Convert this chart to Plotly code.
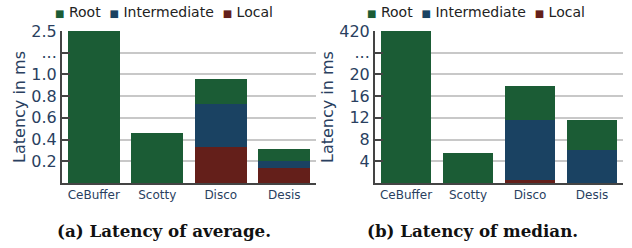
import plotly.graph_objects as go

categories = ["CeBuffer", "Scotty", "Disco", "Desis"]
series_names = ["Root", "Intermediate", "Local"]
series_colors = ["#1b5c35", "#1a4262", "#641f1a"]

# (a) average latency in ms, stacked (Local bottom, Intermediate, Root top)
avg_local = [0.0, 0.0, 0.33, 0.14]
avg_intermediate = [0.0, 0.0, 0.40, 0.06]
avg_root = [2.5, 0.46, 0.23, 0.11]

# (b) median latency in ms
med_local = [0.0, 0.0, 0.6, 0.0]
med_intermediate = [0.0, 0.0, 11.0, 6.1]
med_root = [420.0, 5.5, 6.3, 5.5]

avg_tickvals = [0.2, 0.4, 0.6, 0.8, 1.0, 1.2, 1.4]
avg_ticktext = ["0.2", "0.4", "0.6", "0.8", "1.0", "...", "2.5"]
med_tickvals = [4, 8, 12, 16, 20, 24, 28]
med_ticktext = ["4", "8", "12", "16", "20", "...", "420"]

captions = ["(a) Latency of average.", "(b) Latency of median."]

W, H = 632, 248
fig = go.Figure()

panels = [
    ("x", "y", {"Local": avg_local, "Intermediate": avg_intermediate, "Root": avg_root}),
    ("x2", "y2", {"Local": med_local, "Intermediate": med_intermediate, "Root": med_root}),
]
color_of = dict(zip(series_names, series_colors))
for xa, ya, data in panels:
    for name in ["Local", "Intermediate", "Root"]:
        fig.add_trace(go.Bar(
            x=categories, y=data[name], name=name, xaxis=xa, yaxis=ya,
            marker=dict(color=color_of[name], line=dict(width=0)),
            showlegend=False, hoverinfo="skip",
        ))

font_sans = "DejaVu Sans"
tick_color = "#2a3f5f"
axis_col = "#444444"

common_y = dict(
    showline=True, linecolor=axis_col, linewidth=2,
    ticks="inside", ticklen=8, tickwidth=2, tickcolor=axis_col,
    showgrid=True, gridcolor="#c8c8c8", gridwidth=1.5,
    zeroline=False, automargin=False,
    ticklabelstandoff=0,
    tickfont=dict(family=font_sans, size=16, color=tick_color),
    title=dict(text="Latency in ms", font=dict(family=font_sans, size=16, color=tick_color), standoff=2),
)
common_x = dict(
    showline=True, linecolor=axis_col, linewidth=2, ticks="",
    showgrid=False, automargin=False,
    categoryorder="array", categoryarray=categories,
    tickfont=dict(family=font_sans, size=12, color=tick_color),
)

fig.update_layout(
    width=W, height=H,
    margin=dict(l=0, r=0, t=0, b=0),
    paper_bgcolor="white", plot_bgcolor="white",
    barmode="stack", bargap=0.18,
    showlegend=False,
    xaxis=dict(domain=[62 / W, 316 / W], anchor="y", **common_x),
    yaxis=dict(domain=[1 - 183 / H, 1 - 31 / H], anchor="x", range=[0, 1.4],
               tickmode="array", tickvals=avg_tickvals, ticktext=avg_ticktext, **common_y),
    xaxis2=dict(domain=[375 / W, 623 / W], anchor="y2", **common_x),
    yaxis2=dict(domain=[1 - 183 / H, 1 - 31 / H], anchor="x2", range=[0, 28],
                tickmode="array", tickvals=med_tickvals, ticktext=med_ticktext, **common_y),
)

# legends (one per panel) built from series names and colours
legend_html = "  ".join(
    f"<span style='color:{c};font-size:10px'>■</span> {n}" for n, c in zip(series_names, series_colors)
)
for cx in [163.5 / W, 476 / W]:
    fig.add_annotation(
        x=cx, y=1 - 12 / H, xref="paper", yref="paper", xanchor="center", yanchor="middle",
        text=legend_html, showarrow=False,
        font=dict(family=font_sans, size=14, color="#222222"),
    )

for cx, cap in zip([163.5 / W, 472.5 / W], captions):
    fig.add_annotation(
        x=cx, y=1 - 231 / H, xref="paper", yref="paper", xanchor="center", yanchor="middle",
        text=f"<b>{cap}</b>", showarrow=False,
        font=dict(family="DejaVu Serif", size=16.7, color="#111111"),
    )

fig.write_html(
    "out.html",
    config={"displayModeBar": False},
    post_script="document.body.style.margin='0';document.body.style.overflow='hidden';",
)
